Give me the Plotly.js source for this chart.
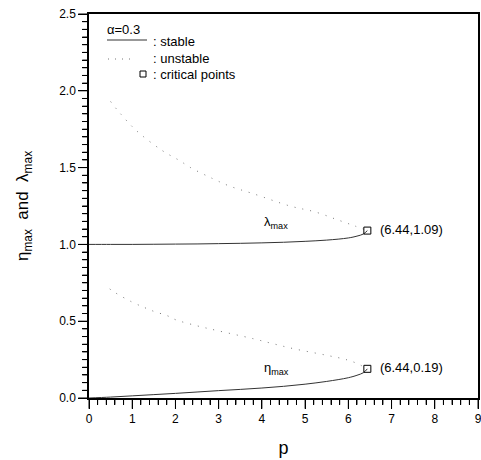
<!DOCTYPE html>
<html>
<head>
<meta charset="utf-8">
<script src="https://cdn.plot.ly/plotly-3.0.1.min.js"></script>
<style>html,body{margin:0;padding:0;background:#fff;}#chart{width:481px;height:460px;}</style>
</head>
<body>
<div id="chart"></div>
<script>
// stable branches
var pStable = [0, 0.5, 1.0, 1.5, 2.0, 2.5, 3.0, 3.5, 4.0, 4.5, 5.0, 5.5, 6.0, 6.2, 6.35, 6.44];
var etaStable = [0, 0.006, 0.014, 0.022, 0.030, 0.039, 0.048, 0.056, 0.065, 0.076, 0.090, 0.108, 0.132, 0.148, 0.165, 0.19];
var lamStable = [1.0, 1.0, 1.0, 1.001, 1.002, 1.003, 1.005, 1.007, 1.010, 1.014, 1.020, 1.028, 1.042, 1.054, 1.068, 1.09];
// unstable branches
var pUnstLam = [0.5, 0.7, 1.1, 1.7, 2.1, 2.35, 2.85, 3.25, 3.8, 4.65, 5.25, 5.75, 6.15, 6.44];
var lamUnst = [1.93, 1.86, 1.74, 1.61, 1.545, 1.50, 1.43, 1.38, 1.33, 1.25, 1.21, 1.16, 1.12, 1.09];
var pUnstEta = [0.48, 0.61, 0.98, 1.29, 1.52, 1.81, 2.0, 2.5, 2.95, 3.8, 4.25, 4.75, 5.5, 5.95, 6.2, 6.44];
var etaUnst = [0.71, 0.685, 0.627, 0.588, 0.562, 0.536, 0.51, 0.47, 0.44, 0.386, 0.354, 0.32, 0.278, 0.25, 0.225, 0.19];
// critical points
var pCrit = [6.44, 6.44];
var valCrit = [1.09, 0.19];
var critLabels = ["(6.44,1.09)", "(6.44,0.19)"];
// legend texts
var legendTitle = "α=0.3";
var legendLabels = [": stable", ": unstable", ": critical points"];

var FONT = "Arial, Liberation Sans, sans-serif";
var lineCol = "#333";
var W = 481, H = 460, ML = 89, MR = 3, MT = 14, MB = 62;
function px(xp){ return (xp - ML) / (W - ML - MR); }
function py(yp){ return (H - MB - yp) / (H - MT - MB); }
var legendRows = [42, 58, 74];

var traces = [
  {x: pStable, y: lamStable, mode: "lines", line: {color: lineCol, width: 1, shape: "spline"}, showlegend: false},
  {x: pStable, y: etaStable, mode: "lines", line: {color: lineCol, width: 1, shape: "spline"}, showlegend: false},
  {x: pUnstLam, y: lamUnst, mode: "lines", line: {color: "#777", width: 1, dash: "1px,7px", shape: "spline"}, showlegend: false},
  {x: pUnstEta, y: etaUnst, mode: "lines", line: {color: "#777", width: 1, dash: "1px,7px", shape: "spline"}, showlegend: false},
  {x: pCrit, y: valCrit, mode: "markers+text", marker: {symbol: "square-open", size: 7, color: "#000", line: {width: 1}},
   text: critLabels.map(function(t){ return "  " + t; }), textposition: "middle right",
   textfont: {family: FONT, size: 13, color: "#000"}, showlegend: false}
];

var annotations = [
  {x: 4.0, y: 1.14, xref: "x", yref: "y", xanchor: "left", text: "λ<sub>max</sub>", showarrow: false, font: {family: FONT, size: 13, color: "#000"}},
  {x: 4.0, y: 0.195, xref: "x", yref: "y", xanchor: "left", text: "η<sub>max</sub>", showarrow: false, font: {family: FONT, size: 13, color: "#000"}},
  {x: px(105), y: py(29), xref: "paper", yref: "paper", xanchor: "left", yanchor: "middle", text: legendTitle, showarrow: false, font: {family: FONT, size: 13, color: "#000"}}
];
legendLabels.forEach(function(t, i){
  annotations.push({x: px(151), y: py(legendRows[i]), xref: "paper", yref: "paper", xanchor: "left", yanchor: "middle",
    text: t, showarrow: false, font: {family: FONT, size: 13, color: "#000"}});
});

var shapes = [
  {type: "line", xref: "paper", yref: "paper", x0: px(107), x1: px(147), y0: py(legendRows[0] - 2), y1: py(legendRows[0] - 2), line: {color: lineCol, width: 1}},
  {type: "line", xref: "paper", yref: "paper", x0: px(108), x1: px(132), y0: py(legendRows[1] + 1), y1: py(legendRows[1] + 1), line: {color: "#777", width: 1, dash: "1px,6px"}},
  {type: "rect", xref: "paper", yref: "paper", x0: px(140), x1: px(146), y0: py(legendRows[2] - 3), y1: py(legendRows[2] + 3), line: {color: "#000", width: 1}}
];

var layout = {
  width: W, height: H,
  margin: {l: ML, r: MR, t: MT, b: MB},
  paper_bgcolor: "#fff", plot_bgcolor: "#fff",
  font: {family: FONT, color: "#000", size: 12},
  showlegend: false,
  xaxis: {
    range: [0, 9], dtick: 1, tick0: 0,
    ticks: "outside", ticklen: 9, tickcolor: "#000",
    minor: {dtick: 0.2, ticks: "outside", ticklen: 5, tickcolor: "#000"},
    showline: true, linecolor: "#000", linewidth: 1.5, mirror: true,
    showgrid: false, zeroline: false, ticklabeloverflow: "allow",
    tickfont: {family: FONT, size: 12, color: "#000"},
    title: {text: "p", font: {family: FONT, size: 18, color: "#000"}, standoff: 16}
  },
  yaxis: {
    range: [0, 2.5], dtick: 0.5, tick0: 0, tickformat: ".1f",
    ticks: "outside", ticklen: 9, tickcolor: "#000",
    minor: {dtick: 0.05, ticks: "outside", ticklen: 5, tickcolor: "#000"},
    showline: true, linecolor: "#000", linewidth: 1.5, mirror: true,
    showgrid: false, zeroline: false,
    tickfont: {family: FONT, size: 12, color: "#000"},
    title: {text: "η<sub>max</sub>&nbsp;&nbsp;and&nbsp;&nbsp;λ<sub>max</sub>", font: {family: FONT, size: 17, color: "#000"}, standoff: 26}
  },
  annotations: annotations,
  shapes: shapes
};

// Bring Plotly's own tick marks to the front (they are sometimes hidden in the final picture)
function raiseTicks() {
  var svg = document.querySelector("#chart svg.main-svg");
  if (!svg) return;
  var old = svg.querySelector("g.tick-front");
  if (old) old.parentNode.removeChild(old);
  var g = document.createElementNS("http://www.w3.org/2000/svg", "g");
  g.setAttribute("class", "tick-front");
  document.querySelectorAll("#chart path.xtick, #chart path.ytick").forEach(function(p){
    var c = p.cloneNode(true);
    c.removeAttribute("clip-path");
    c.setAttribute("class", "tick-copy");
    c.style.stroke = "#000";
    c.style.strokeOpacity = "1";
    c.style.strokeWidth = "1px";
    c.style.display = "inline";
    c.style.visibility = "visible";
    c.style.opacity = "1";
    g.appendChild(c);
  });
  svg.appendChild(g);
}

Plotly.newPlot("chart", traces, layout, {displayModeBar: false}).then(function(){
  raiseTicks();
  setTimeout(raiseTicks, 50);
});
</script>
</body>
</html>
